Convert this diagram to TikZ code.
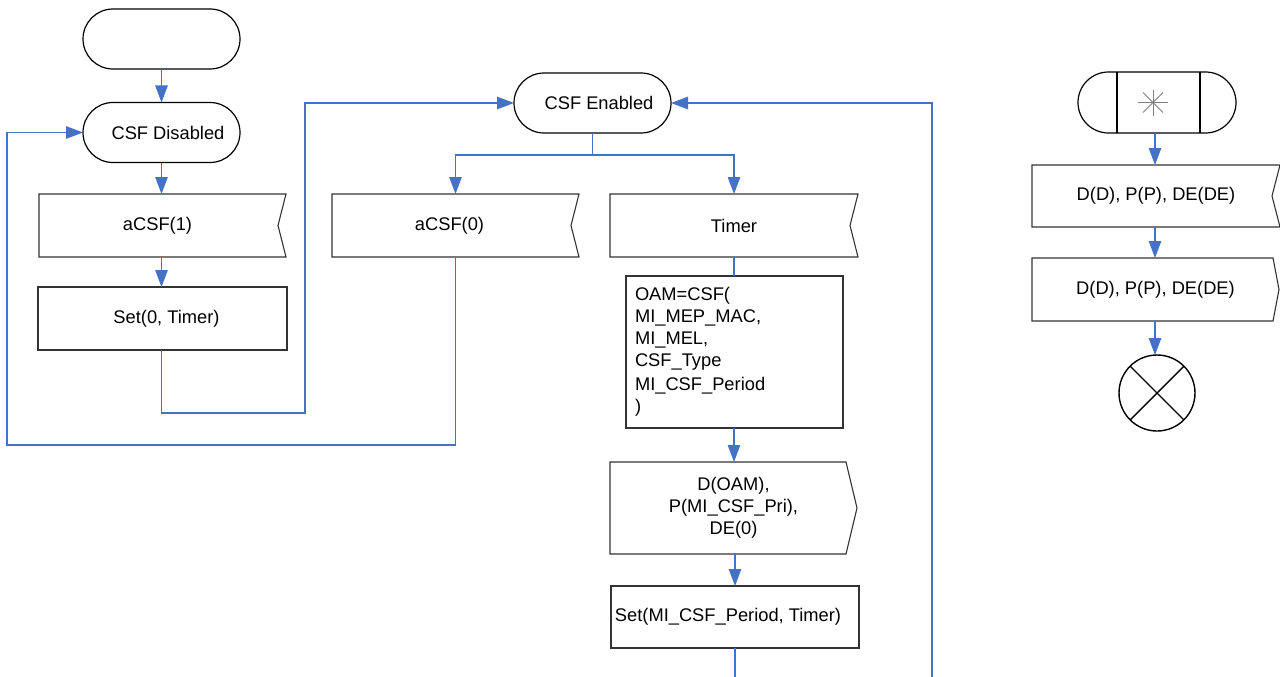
\documentclass[tikz,border=0pt]{standalone}
\usepackage{fontspec}
\setmainfont{Liberation Sans}
\usetikzlibrary{shapes.misc,arrows.meta,calc}
\definecolor{conblue}{RGB}{68,114,196}
\begin{document}
\begin{tikzpicture}[x=1pt,y=1pt,
  font=\fontsize{18.3}{22}\selectfont,
  every node/.style={inner sep=0pt, outer sep=0pt},
  term/.style={rounded rectangle, draw=black, line width=1.2pt, minimum width=157pt, minimum height=60pt},
  boxn/.style={rectangle, minimum height=63pt},
  procbox/.style={boxn, draw=black!80, line width=1.1pt},
  sigline/.style={draw=black!80, line width=1.1pt, line join=miter},
  conn/.style={draw=conblue, line width=1.1pt},
  arr/.style={conn, -{Triangle[length=17pt,width=12.5pt]}},
]
\path[use as bounding box] (0,0) rectangle (1280,-677);

% left column
\node[term] (start) at (161.5,-39) {};
\node[term] (disabled) at (161.5,-132.5) {\hspace*{13pt}CSF Disabled};
\node[boxn, minimum width=247pt] (acsf1) at (162.5,-225.5) {\hspace*{-10pt}aCSF(1)};
\draw[sigline] (acsf1.north west) -- (acsf1.north east) -- ([xshift=-8pt]acsf1.east) -- (acsf1.south east) -- (acsf1.south west) -- cycle;
\node[procbox, minimum width=249pt] (set0) at (162.5,-318.5) {\hspace*{8pt}Set(0, Timer)};

% middle
\node[term] (enabled) at (592.5,-103) {\hspace*{13pt}CSF Enabled};
\node[boxn, minimum width=247pt] (acsf0) at (455.5,-225.5) {\hspace*{-12pt}aCSF(0)};
\draw[sigline] (acsf0.north west) -- (acsf0.north east) -- ([xshift=-8pt]acsf0.east) -- (acsf0.south east) -- (acsf0.south west) -- cycle;
\node[boxn, minimum width=248pt] (timer) at (734,-225.5) {Timer};
\draw[sigline] (timer.north west) -- (timer.north east) -- ([xshift=-8pt]timer.east) -- (timer.south east) -- (timer.south west) -- cycle;
\node[procbox, minimum width=217pt, minimum height=152pt, text width=199pt, inner xsep=9pt, align=left] (oam) at (734.5,-352)
  {OAM=CSF(\\MI\_MEP\_MAC,\\MI\_MEL,\\CSF\_Type\\[2pt]MI\_CSF\_Period\\)};
\node[boxn, minimum width=247pt, minimum height=92pt, align=center] (dout) at (733.5,-508)
  {D(OAM),\\P(MI\_CSF\_Pri),\\DE(0)};
\draw[sigline] (dout.north west) -- ([xshift=-11pt]dout.north east) -- (dout.east) -- ([xshift=-11pt]dout.south east) -- (dout.south west) -- cycle;
\node[procbox, minimum width=248pt, minimum height=62pt] (setp) at (735,-617) {\hspace*{-14pt}Set(MI\_CSF\_Period, Timer)};

% right column
\node[term, minimum width=158pt, minimum height=61pt] (term2) at (1157,-102.5) {};
\draw[line width=1.2pt] ([xshift=-40pt]term2.north) -- ([xshift=-40pt]term2.south);
\draw[line width=1.2pt] ([xshift=43pt]term2.north) -- ([xshift=43pt]term2.south);
\draw[gray, line width=1pt] ([xshift=-19pt]term2.center) -- ([xshift=11pt]term2.center);
\draw[gray, line width=1pt] ([xshift=-4pt,yshift=13pt]term2.center) -- ([xshift=-4pt,yshift=-13pt]term2.center);
\draw[gray, line width=1pt] ([xshift=-14pt,yshift=10pt]term2.center) -- ([xshift=6pt,yshift=-10pt]term2.center);
\draw[gray, line width=1pt] ([xshift=-14pt,yshift=-10pt]term2.center) -- ([xshift=6pt,yshift=10pt]term2.center);
\node[boxn, minimum width=248pt, minimum height=62pt] (in2) at (1156,-196) {D(D), P(P), DE(DE)};
\draw[sigline] (in2.north west) -- (in2.north east) -- ([xshift=-8pt]in2.east) -- (in2.south east) -- (in2.south west) -- cycle;
\node[boxn, minimum width=247pt, minimum height=63pt] (out2) at (1155.5,-289.5) {D(D), P(P), DE(DE)};
\draw[sigline] (out2.north west) -- ([xshift=-6pt]out2.north east) -- (out2.east) -- ([xshift=-6pt]out2.south east) -- (out2.south west) -- cycle;
\node[circle, draw=black, line width=1.4pt, minimum size=76pt] (xc) at (1157,-393) {};
\draw[line width=1.4pt] (xc.north west) -- (xc.south east);
\draw[line width=1.4pt] (xc.north east) -- (xc.south west);

% connectors
\draw[arr] (start.south) -- (disabled.north);
\draw[arr] (disabled.south) -- (disabled.south |- acsf1.north);
\draw[arr] (acsf1.south -| disabled.south) -- (disabled.south |- set0.north);
\coordinate (c1) at (305,-413);
\draw[arr] (set0.south -| disabled.south) |- (c1) |- (enabled.west);
\coordinate (c2) at (7,-445);
\draw[arr] (acsf0.south) |- (c2) |- (disabled.west);
\draw[conn] (enabled.south) -- ++(0,-22) coordinate (fork);
\draw[arr] (fork) -| (acsf0.north);
\draw[arr] (fork) -| (timer.north);
\draw[conn] (timer.south) -- (timer.south |- oam.north);
\draw[arr] (oam.south -| timer.south) -- (timer.south |- dout.north);
\draw[arr] (dout.south -| setp.north) -- (setp.north);
\coordinate (c4) at (735,-677);
\draw[conn] (setp.south) -- (c4);
\coordinate (c3) at (932,-677);
\draw[arr] (c3) |- (enabled.east);
\draw[arr] ([xshift=-2pt]term2.south) -- ([xshift=-2pt]term2.south |- in2.north);
\draw[arr] ([xshift=-2pt]term2.south |- in2.south) -- ([xshift=-2pt]term2.south |- out2.north);
\draw[arr] ([xshift=-2pt]term2.south |- out2.south) -- ([xshift=-2pt]term2.south |- xc.north);
\end{tikzpicture}
\end{document}
